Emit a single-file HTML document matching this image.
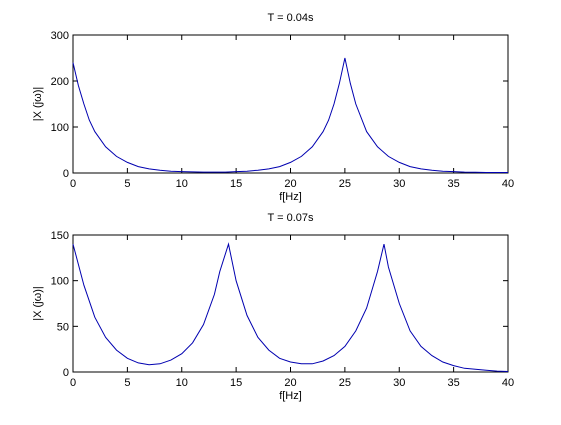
<!DOCTYPE html>
<html><head><meta charset="utf-8"><style>
body{margin:0;background:#fff}
text{font-family:"Liberation Sans",sans-serif;font-size:11px;fill:#000}
</style></head><body>
<svg id="fig" width="561" height="420" xmlns="http://www.w3.org/2000/svg"></svg>
<script>
const topF=[0,0.5,1,1.5,2,3,4,5,6,7,8,9,10,12,14,15,16,17,18,19,20,21,22,23,23.5,24,24.5,25,25.5,26,27,28,29,30,31,32,33,34,35,36,37,38,40];
const topV=[240,190,150,115,90,57,36,23,14,9,6,4,3,2,2,3,4,6,9,14,23,36,57,90,115,150,195,250,195,150,90,57,36,23,14,9,6,4,3,2,1.5,1,1];
const botF=[0,1,2,3,4,5,6,7,8,9,10,11,12,13,13.5,14.3,15,16,17,18,19,20,21,22,23,24,25,26,27,28,28.6,29,30,31,32,33,34,35,36,37,38,39,40];
const botV=[140,95,60,38,24,15,10,8,9,13,20,32,52,85,110,140,100,62,38,24,15,11,9,9,12,18,28,45,70,110,140,115,75,45,28,18,11,7,4,3,2,1,0.5];
const xTicks=[0,5,10,15,20,25,30,35,40];
const topYTicks=[0,100,200,300];
const botYTicks=[0,50,100,150];
const svg=document.getElementById('fig');
const NS='http://www.w3.org/2000/svg';
function mk(tag,attrs,parent){const e=document.createElementNS(NS,tag);for(const k in attrs)e.setAttribute(k,attrs[k]);(parent||svg).appendChild(e);return e;}
function panel(name,top,bottom,ymax,yt,fs,vs,title){
  const L=73,R=508;
  const g=mk('g',{});
  
  
  const x=f=>L+(f/40)*(R-L), y=v=>bottom-(v/ymax)*(bottom-top);
  const box=mk('rect',{x:L,y:top,width:R-L,height:bottom-top,fill:'#fff',stroke:'#000','stroke-width':1},g);
  
  
  xTicks.forEach(t=>{
    mk('line',{x1:x(t),x2:x(t),y1:bottom,y2:bottom-5,stroke:'#000'},g);
    mk('line',{x1:x(t),x2:x(t),y1:top,y2:top+5,stroke:'#000'},g);
    const tx=mk('text',{x:x(t),y:bottom+14,'text-anchor':'middle'},g);tx.textContent=t;
    
    
  });
  yt.forEach(t=>{
    mk('line',{x1:L,x2:L+5,y1:y(t),y2:y(t),stroke:'#000'},g);
    mk('line',{x1:R,x2:R-5,y1:y(t),y2:y(t),stroke:'#000'},g);
    const tx=mk('text',{x:L-4,y:y(t)+4,'text-anchor':'end'},g);tx.textContent=t;
    
    
  });
  const pts=fs.map((f,i)=>x(f).toFixed(1)+','+y(vs[i]).toFixed(1)).join(' ');
  const pl=mk('polyline',{points:pts,fill:'none',stroke:'#0000b0','stroke-width':1},g);
  
  
  const tt=mk('text',{x:(L+R)/2,y:top-14,'text-anchor':'middle'},g);tt.textContent=title;
  
  
  const xl=mk('text',{x:(L+R)/2,y:bottom+27,'text-anchor':'middle'},g);xl.textContent='f[Hz]';
  
  
  const cy=(top+bottom)/2;
  const yl=mk('text',{x:41,y:cy,'text-anchor':'middle',transform:`rotate(-90 41 ${cy})`},g);yl.textContent='|X (jω)|';
  
  
}
panel('top-panel',35,173,300,topYTicks,topF,topV,'T = 0.04s');
panel('bottom-panel',235,372,150,botYTicks,botF,botV,'T = 0.07s');
</script>
</body></html>
